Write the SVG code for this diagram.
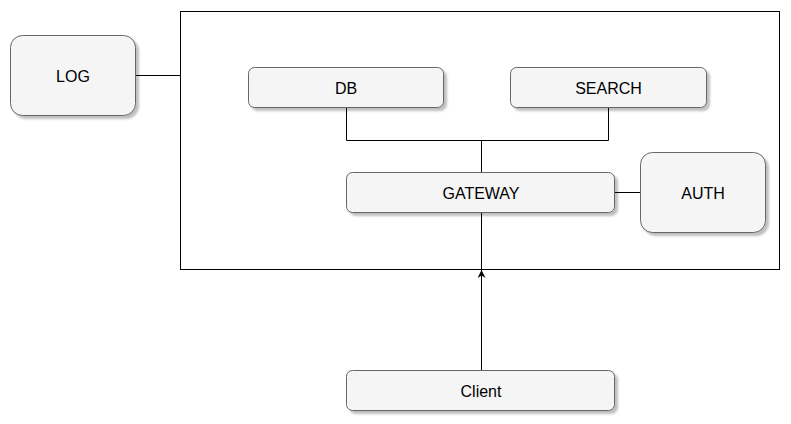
<svg xmlns="http://www.w3.org/2000/svg" width="791" height="424" viewBox="0 0 791 424">
<defs>
<filter id="sh" x="-10%" y="-10%" width="130%" height="140%">
<feOffset in="SourceAlpha" dx="3" dy="3" result="o"/>
<feGaussianBlur in="o" stdDeviation="1" result="b"/>
<feComponentTransfer in="b" result="c"><feFuncA type="linear" slope="0.25"/></feComponentTransfer>
<feMerge><feMergeNode in="c"/><feMergeNode in="SourceGraphic"/></feMerge>
</filter>
<marker id="arr" viewBox="0 0 10 10" refX="10" refY="5" markerWidth="9" markerHeight="8" orient="auto" markerUnits="userSpaceOnUse">
<path d="M0,0 L10,5 L0,10 L3,5 Z" fill="#000"/>
</marker>
</defs>
<style>
.n{fill:#f5f5f5;stroke:#666;stroke-width:1;filter:url(#sh)}
.t{font-family:"Liberation Sans",Arial,sans-serif;font-size:16px;fill:#000;text-anchor:middle;dominant-baseline:central}
.c{fill:none;stroke:#000;stroke-width:1}
</style>
<rect x="180.5" y="11.5" width="599" height="258" fill="#fff" stroke="#000"/>
<g id="connectors">
<path class="c" d="M135.5,75.5 H180.5"/>
<path class="c" d="M346.5,107.5 V140.5 H608.5 V107.5"/>
<path class="c" d="M481.5,140.5 V172.5"/>
<path class="c" d="M481.5,212.5 V269.5"/>
<path class="c" d="M614.5,192.5 H640.5"/>
<path class="c" d="M481.5,370.5 V270" marker-end="url(#arr)"/>
</g>
<g id="LOG"><rect class="n" x="10.5" y="35.5" width="125" height="80" rx="12"/><text class="t" x="73" y="76.5">LOG</text></g>
<g id="DB"><rect class="n" x="248.5" y="67.5" width="195" height="40" rx="6"/><text class="t" x="346" y="88.5">DB</text></g>
<g id="SEARCH"><rect class="n" x="510.5" y="67.5" width="196" height="40" rx="6"/><text class="t" x="608.5" y="88.5">SEARCH</text></g>
<g id="GATEWAY"><rect class="n" x="346.5" y="172.5" width="268" height="40" rx="6"/><text class="t" x="481" y="193.5">GATEWAY</text></g>
<g id="AUTH"><rect class="n" x="640.5" y="152.5" width="125" height="80" rx="12"/><text class="t" x="703" y="193.5">AUTH</text></g>
<g id="Client"><rect class="n" x="346.5" y="370.5" width="268" height="40" rx="6"/><text class="t" x="481" y="391.5">Client</text></g>
</svg>
